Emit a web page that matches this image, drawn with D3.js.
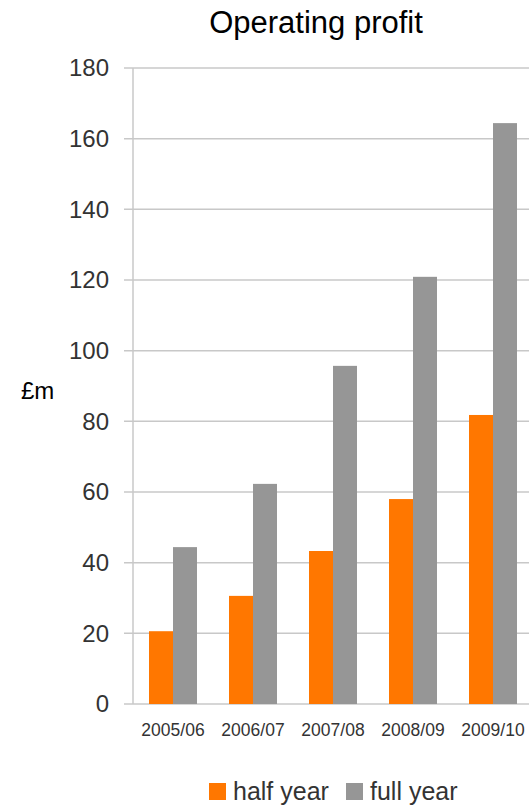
<!DOCTYPE html>
<html>
<head>
<meta charset="utf-8">
<script src="https://cdn.jsdelivr.net/npm/d3@7"></script>
<style>
  body { margin: 0; background: #fff; }
  svg { font-family: "Liberation Sans", Arial, sans-serif; }
</style>
</head>
<body>
<svg id="chart" width="529" height="807"></svg>
<script>
// data
const years = ["2005/06", "2006/07", "2007/08", "2008/09", "2009/10"]
const halfYear = [20.6, 30.6, 43.3, 58.0, 81.8]
const fullYear = [44.4, 62.3, 95.7, 120.9, 164.4]
const seriesNames = ["half year", "full year"]
const seriesColors = ["#ff7700", "#969696"]
const yTicks = [0, 20, 40, 60, 80, 100, 120, 140, 160, 180]

const svg = d3.select("#chart")
const plotLeft = 133, plotRight = 533, plotTop = 68, plotBottom = 704

const x = d3.scaleBand().domain(years).range([plotLeft, plotRight]).paddingInner(0.4).paddingOuter(0.2)
const xs = d3.scaleBand().domain(seriesNames).range([0, x.bandwidth()])
const y = d3.scaleLinear().domain([0, 180]).range([plotBottom, plotTop])

// gridlines
svg.append("g").selectAll("line").data(yTicks).join("line")
  .attr("x1", plotLeft - 9).attr("x2", plotRight)
  .attr("y1", d => y(d)).attr("y2", d => y(d))
  .attr("stroke", "#c8c8c8").attr("stroke-width", 1.5)

// y axis line
svg.append("line")
  .attr("x1", plotLeft).attr("x2", plotLeft).attr("y1", plotTop).attr("y2", plotBottom)
  .attr("stroke", "#c8c8c8").attr("stroke-width", 1.5)

// y tick labels
svg.append("g").selectAll("text").data(yTicks).join("text")
  .attr("x", 109).attr("y", d => y(d)).attr("dy", "0.35em")
  .attr("text-anchor", "end").attr("font-size", 24).attr("fill", "#333")
  .text(d => d)

// bars
const series = [halfYear, fullYear]
const groups = svg.append("g").selectAll("g").data(series).join("g")
  .attr("fill", (d, i) => seriesColors[i])
groups.each(function (vals, si) {
  d3.select(this).selectAll("rect").data(vals).join("rect")
    .attr("x", (d, i) => x(years[i]) + xs(seriesNames[si]))
    .attr("width", xs.bandwidth())
    .attr("y", d => y(d))
    .attr("height", d => y(0) - y(d))
})

// category labels
svg.append("g").selectAll("text").data(years).join("text")
  .attr("x", d => x(d) + x.bandwidth() / 2).attr("y", 730).attr("dy", "0.35em")
  .attr("text-anchor", "middle").attr("font-size", 17.5).attr("fill", "#333")
  .text(d => d)

// title and axis label
svg.append("text").attr("x", 316).attr("y", 33)
  .attr("text-anchor", "middle").attr("font-size", 31).attr("fill", "#000")
  .text("Operating profit")
svg.append("text").attr("x", 21).attr("y", 391).attr("dy", "0.35em")
  .attr("font-size", 24).attr("fill", "#000")
  .text("£m")

// legend
const legendX = [209, 346]
const lg = svg.append("g").selectAll("g").data(seriesNames).join("g")
  .attr("transform", (d, i) => `translate(${legendX[i]},783)`)
lg.append("rect").attr("width", 17).attr("height", 17)
  .attr("fill", (d, i) => seriesColors[i])
lg.append("text").attr("x", 24).attr("y", 8.5).attr("dy", "0.35em")
  .attr("font-size", 25).attr("fill", "#333")
  .text(d => d)
</script>
</body>
</html>
